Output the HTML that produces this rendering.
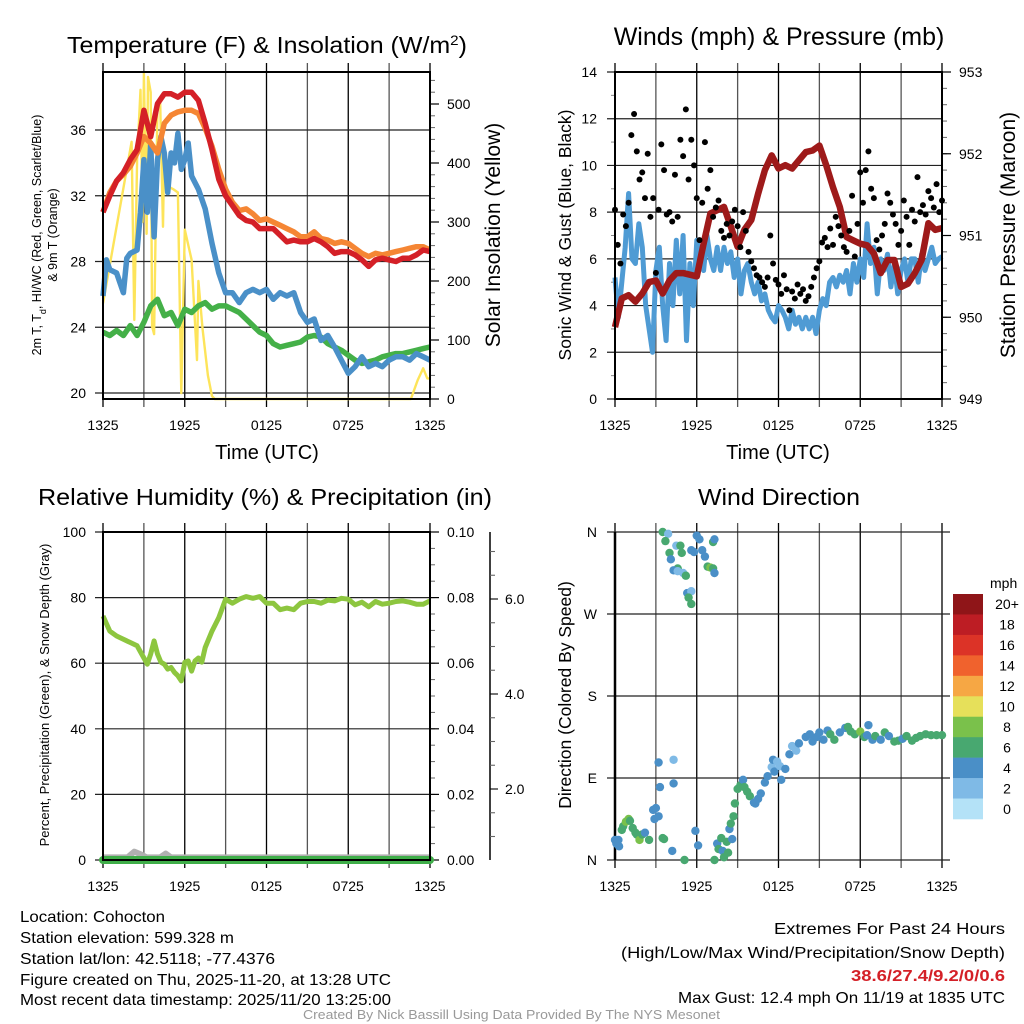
<!DOCTYPE html>
<html><head><meta charset="utf-8"><style>
html,body{margin:0;padding:0;background:#fff}
svg{display:block;font-family:"Liberation Sans",sans-serif}
.n{font-family:"Liberation Sans Narrow","Liberation Sans",sans-serif}
</style></head><body>
<svg id="chart" width="1024" height="1024" viewBox="0 0 1024 1024" xmlns="http://www.w3.org/2000/svg">
<rect width="1024" height="1024" fill="#fff"/>
<g id="panels"></g>
<text x="267" y="53" font-size="23" text-anchor="middle" textLength="400" lengthAdjust="spacingAndGlyphs">Temperature (F) &amp; Insolation (W/m<tspan baseline-shift="super" font-size="14">2</tspan>)</text>
<text x="779" y="45" font-size="25" text-anchor="middle">Winds (mph) &amp; Pressure (mb)</text>
<text x="265" y="505" font-size="23" text-anchor="middle" textLength="454" lengthAdjust="spacingAndGlyphs">Relative Humidity (%) &amp; Precipitation (in)</text>
<text x="779" y="505" font-size="23" text-anchor="middle" textLength="162" lengthAdjust="spacingAndGlyphs">Wind Direction</text>
<text x="267" y="459" font-size="20" text-anchor="middle">Time (UTC)</text>
<text x="778" y="459" font-size="20" text-anchor="middle">Time (UTC)</text>
<text transform="translate(41,235) rotate(-90)" font-size="12.5" text-anchor="middle">2m T, T<tspan baseline-shift="sub" font-size="9">d</tspan>, HI/WC (Red, Green, Scarlet/Blue)</text>
<text transform="translate(57,235) rotate(-90)" font-size="12.5" text-anchor="middle">&amp; 9m T (Orange)</text>
<text transform="translate(500,235) rotate(-90)" font-size="21" text-anchor="middle">Solar Insolation (Yellow)</text>
<text transform="translate(571,235) rotate(-90)" font-size="17.5" text-anchor="middle">Sonic Wind &amp; Gust (Blue, Black)</text>
<text transform="translate(1015,235) rotate(-90)" font-size="21" text-anchor="middle">Station Pressure (Maroon)</text>
<text transform="translate(49,695) rotate(-90)" font-size="13" text-anchor="middle">Percent, Precipitation (Green), &amp; Snow Depth (Gray)</text>
<text transform="translate(571,695) rotate(-90)" font-size="17.5" text-anchor="middle">Direction (Colored By Speed)</text>
<g class="n" font-size="16">
<text x="20" y="922" textLength="145" lengthAdjust="spacingAndGlyphs">Location: Cohocton</text>
<text x="20" y="943" textLength="214" lengthAdjust="spacingAndGlyphs">Station elevation: 599.328 m</text>
<text x="20" y="964" textLength="255" lengthAdjust="spacingAndGlyphs">Station lat/lon: 42.5118; -77.4376</text>
<text x="20" y="985" textLength="371" lengthAdjust="spacingAndGlyphs">Figure created on Thu, 2025-11-20, at 13:28 UTC</text>
<text x="20" y="1005" textLength="371" lengthAdjust="spacingAndGlyphs">Most recent data timestamp: 2025/11/20 13:25:00</text>
</g>
<g class="n" font-size="16">
<text x="774" y="934" textLength="231" lengthAdjust="spacingAndGlyphs">Extremes For Past 24 Hours</text>
<text x="621" y="958" textLength="384" lengthAdjust="spacingAndGlyphs">(High/Low/Max Wind/Precipitation/Snow Depth)</text>
<text x="851" y="981" textLength="154" lengthAdjust="spacingAndGlyphs" fill="#d42027" font-weight="bold">38.6/27.4/9.2/0/0.6</text>
<text x="678" y="1003" textLength="327" lengthAdjust="spacingAndGlyphs">Max Gust: 12.4 mph On 11/19 at 1835 UTC</text>
</g>
<text class="n" x="303" y="1019" font-size="13" fill="#999" textLength="417" lengthAdjust="spacingAndGlyphs">Created By Nick Bassill Using Data Provided By The NYS Mesonet</text>
</svg>
<script>
const timeTickHours = [0,6,12,18,24];
const timeTickLabels = ["1325","1925","0125","0725","1325"];
const tempTicks = [20,24,28,32,36];
const solarTicks = [0,100,200,300,400,500];
const windTicks = [0,2,4,6,8,10,12,14];
const pressTicks = [949,950,951,952,953];
const rhTicks = [0,20,40,60,80,100];
const precipTickLabels = ["0.00","0.02","0.04","0.06","0.08","0.10"];
const snowTicks = [2,4,6];
const dirTicks = [0,90,180,270,360];
const dirTickLabels = ["N","E","S","W","N"];

const tempRed = [31,32,32.9,33.4,34.2,34.8,37.2,35.6,37.6,38.2,38.2,38,38.3,38.3,37.8,36.4,34.8,33,32,31.4,30.8,30.5,30.4,30,30,30,29.6,29.2,29.3,29.2,29.2,29.4,29.2,28.9,28.5,28.6,28.6,28.4,28.1,27.7,28.1,28.2,28.1,28.0,28.2,28.2,28.4,28.7,28.6];
const tempOrange = [31,32.2,32.9,33.3,33.8,34.6,35.6,35.2,34.6,36.4,36.9,37.1,37.2,37.2,37.0,36.1,35.0,33.6,32.4,31.6,31.1,31.2,30.9,30.5,30.6,30.4,30.2,30.0,29.8,29.5,29.5,29.8,29.4,29.3,29.1,29.2,29.1,28.8,28.5,28.3,28.5,28.4,28.5,28.6,28.7,28.8,28.9,28.9,28.7];
const dewGreen = [23.7,23.5,23.8,23.5,24.1,23.5,24.3,25.3,25.7,24.7,24.9,24.1,25.1,24.9,25.3,25.5,25.1,25.3,25.3,25.1,24.9,24.5,24.1,23.7,23.5,23.0,22.8,22.9,23.0,23.1,23.4,23.5,23.4,23.0,22.8,22.6,22.3,22.0,21.8,21.9,22.0,22.2,22.3,22.4,22.4,22.5,22.6,22.7,22.8];
const hiwcHours = [0,0.25,0.5,1,1.5,1.75,2,2.5,2.75,3,3.25,3.5,3.75,4,4.25,4.5,4.75,5,5.25,5.5,5.75,6,6.25,6.5,7,7.5,8,8.5,9,9.5,10,10.5,11,11.5,12,12.5,13,13.5,14,14.5,15,15.5,16,16.5,17,17.5,18,18.5,19,19.5,20,20.5,21,21.5,22,22.5,23,23.5,24];
const hiwcBlue = [25.9,28.1,27.5,27.3,26.1,28.2,28.5,28.7,31,34.2,31,35.2,29.5,34.2,35.6,34.6,32.2,34.6,34.0,35.8,33.6,34.2,35.2,33.2,32.4,31.2,29.1,27.3,26.1,26.1,25.5,26.1,26.3,26.1,26.3,25.7,26.1,25.9,26.1,24.9,24.3,24.5,23.2,23.5,22.8,22.0,21.2,21.6,22.2,21.6,21.8,21.6,22.0,22.2,22.2,22.0,22.4,22.2,22.0];
const solarHours = [0,2.1,2.3,2.5,2.75,2.9,3.0,3.2,3.3,3.5,3.6,3.75,4.0,4.2,4.4,4.5,4.8,5.2,5.5,5.75,6.0,6.5,6.9,7.0,7.3,7.7,8.0,8.2,22.6,23.1,23.5,23.8,24];
const solarVals = [162,436,134,405,524,300,552,280,546,520,123,110,501,501,292,430,360,355,350,10,287,236,66,200,120,40,5,0,0,32,52,35,35];

const windSpeed = [5.2,3.5,5.0,6.5, 8.8,6.0,5.8,7.5, 6.5,4.0,3.0,2.0, 5.5,6.5,4.0,2.5, 5.8,4.0,6.8,4.5, 7.0,2.5,5.8,4.0, 6.8,6.0,5.5,7.0, 6.0,5.5,6.5,5.5, 6.5,5.8,6.3,5.2, 6.0,4.5,5.5,5.8, 5.0,4.5,5.0,4.2, 4.5,3.8,3.5,3.3, 4.0,3.8,3.5,3.0, 3.8,3.2,3.5,3.0, 3.5,3.0,3.5,2.8, 3.8,4.3,4.0,5.0, 5.2,4.8,5.3,5.0, 5.5,4.5,5.8,5.0, 6.0,5.2,7.5,5.8, 6.5,4.5,6.0,5.5, 6.2,4.8,5.8,4.5, 5.5,6.0,5.0,6.0, 6.0,5.0,6.2,5.5, 6.0,6.5,5.8,6.0, 6.1];
const windGust = [8.1,6.6,5.8,7.9,7.4,8.4,11.3,12.2,10.6,9.4,9.7,8.6,10.5,7.8,8.6,5.4,8.1,10.9,9.8,7.9,8.0,7.6,9.6,7.8,11.1,10.4,12.4,9.4,11.1,10.0,8.6,6.8,8.4,11.0,9.0,9.8,7.8,8.2,8.5,7.2,6.9,7.5,7.0,7.6,8.1,7.4,6.5,8.0,7.2,6.3,5.9,5.6,5.3,5.2,5.0,4.8,5.2,7.0,5.8,5.1,4.9,4.5,5.3,4.7,3.8,4.6,4.3,4.9,4.5,4.7,4.2,4.4,4.8,5.2,5.6,5.9,6.7,6.9,6.5,7.3,6.6,7.8,7.4,7.0,6.5,6.3,7.2,8.7,6.1,7.5,9.7,8.4,9.8,10.6,9.0,8.6,6.8,6.4,7.0,7.5,8.8,8.4,7.9,7.5,6.6,7.2,8.5,7.8,6.6,8.1,7.6,9.5,8.0,8.3,7.9,8.9,8.6,8.2,9.2,8.0,8.5];
const pressure = [949.88,950.23,950.27,950.19,950.29,950.43,950.45,950.29,950.45,950.54,950.54,950.52,950.50,950.90,951.27,951.31,951.35,951.11,950.86,951.07,951.19,951.51,951.80,951.98,951.82,951.86,951.82,951.92,952.02,952.04,952.10,951.86,951.59,951.35,950.98,950.94,950.90,950.88,950.78,950.54,950.70,950.70,950.37,950.41,950.54,950.70,951.15,951.07,951.09];

const rhHours = [0,0.5,1,1.5,2,2.5,3,3.25,3.5,3.75,4,4.25,4.5,4.75,5,5.25,5.5,5.75,6,6.25,6.5,6.75,7,7.25,7.5,8,8.5,9,9.5,10,10.5,11,11.5,12,12.5,13,13.5,14,14.5,15,15.5,16,16.5,17,17.5,18,18.5,19,19.5,20,20.5,21,21.5,22,22.5,23,23.5,24];
const rhVals = [74.4,69.8,68.3,67.3,66.3,65.3,61.6,59.7,62.8,66.8,62.8,60.3,59.7,58.2,58.7,57.2,56.2,54.6,60.3,60.7,57.6,60.7,61.6,60.3,64.8,69.8,73.9,79.5,78.3,79.5,80.3,79.8,80.3,78.3,78.3,76.3,76.8,76.3,78.3,78.8,78.8,78.3,79.2,79.0,79.8,79.5,77.8,78.6,77.2,78.8,78.0,78.3,78.8,79.0,78.6,78.0,78.0,79.0];
const precipHours = [0,24];
const precipVals = [0,0];
const snowHours = [0,1.8,2.3,2.8,3.2,4.2,4.6,5.0,24];
const snowVals = [0.56,0.56,0.68,0.62,0.56,0.56,0.64,0.56,0.56];

const dirHours = [0,0.1,0.25,0.3,0.5,0.6,0.8,1.0,1.1,1.3,1.5,1.6,1.8,2.0,2.2,2.5,2.8,2.9,3.0,3.2,3.3,3.2,3.5,3.6,4.2,4.3,4.3,3.5,3.9,3.7,4.0,4.1,4.5,4.8,4.9,4.6,4.3,4.6,5.0,5.3,5.6,5.4,5.6,5.2,5.6,5.8,6.0,6.2,6.4,6.6,6.8,7.0,7.2,7.3,7.2,7.3,5.1,5.9,6.1,7.3,7.5,7.6,7.8,7.9,8.0,8.2,8.3,8.6,8.4,8.5,8.7,8.8,9.0,9.2,9.4,9.5,9.7,9.9,10.2,10.3,10.5,10.7,11.0,11.2,11.5,11.6,11.7,11.9,12.1,12.2,12.5,12.8,13.0,13.2,13.3,13.5,14.0,14.3,14.5,14.8,15.0,15.3,15.6,15.8,16.1,16.5,16.9,17.1,17.3,17.6,18.0,18.3,18.5,18.6,18.9,19.1,19.5,19.8,20.1,20.5,20.8,21.1,21.4,21.8,22.1,22.4,22.8,23.2,23.6,24.0];
const dirDeg = [22,18,22,15,33,37,42,45,43,35,30,28,22,28,30,22,55,45,57,48,80,107,24,23,10,84,110,360,358,350,337,330,345,345,337,320,318,317,315,293,295,288,281,312,340,338,356,352,340,333,322,321,320,315,349,352,0,32,16,0,18,12,24,10,3,20,8,23,34,40,48,62,78,82,88,80,75,70,63,62,67,73,85,92,102,110,97,108,103,88,100,116,125,124,120,128,135,138,130,135,140,132,142,138,132,140,145,146,141,138,141,135,137,148,132,136,132,140,136,130,131,133,136,131,134,136,138,137,137,137];
const dirSpeed = [5,5,5,5,7,7,8,8,7,7,7,7,9,7,5,7,5,5,5,5,5,5,7,7,5,5,3,7,3,7,7,5,3,7,7,7,5,3,3,5,3,7,7,7,5,5,5,5,5,5,7,9,7,5,7,5,7,5,5,7,5,7,7,5,7,7,7,5,5,7,7,7,7,7,5,7,7,7,5,5,5,5,5,5,3,5,5,3,3,5,5,5,3,3,3,5,5,5,5,5,5,5,5,7,7,5,5,7,7,7,9,7,5,5,5,7,5,7,5,7,7,5,7,7,7,7,7,7,7,7];
const speedBins = ["0","2","4","6","8","10","12","14","16","18","20+"];
const speedColors = ["#b4e2f7","#7fbae6","#4a8fc7","#48a870","#7ac14b","#e6e05a","#f6a744","#f0622d","#dc3327","#bd1d24","#8f1518"];

const NS = "http://www.w3.org/2000/svg";
const root = document.getElementById("panels");
function mk(tag, attrs, parent) {
  const el = document.createElementNS(NS, tag);
  for (const k in attrs) el.setAttribute(k, attrs[k]);
  (parent || root).appendChild(el);
  return el;
}
function lin(d0, d1, r0, r1) { return v => r0 + (v - d0) * (r1 - r0) / (d1 - d0); }
function pathFrom(xs, ys, fx, fy) {
  let d = "";
  for (let i = 0; i < xs.length; i++) d += (i ? "L" : "M") + fx(xs[i]).toFixed(1) + "," + fy(ys[i]).toFixed(1);
  return d;
}
function halfHours(n) { const a = []; for (let i = 0; i < n; i++) a.push(i * 0.5); return a; }
function quarterHours(n) { const a = []; for (let i = 0; i < n; i++) a.push(i * 0.25); return a; }
function fifthHours(n) { const a = []; for (let i = 0; i < n; i++) a.push(i * 0.2); return a; }

function frame(g, x0, x1, y0, y1, name) {
  const fx = lin(0, 24, x0, x1);
  for (let h = 0; h <= 24; h += 3) {
    const x = fx(h);
    const ln = mk("line", {x1: x, x2: x, y1: y0 - 9, y2: y1 + 8, stroke: (h % 6 === 0) ? "#000" : "#555", "stroke-width": 1.3}, g);
    
    
  }
  for (let i = 0; i < timeTickHours.length; i++) {
    const t = mk("text", {x: fx(timeTickHours[i]), y: y1 + 31, "font-size": 14, "text-anchor": "middle", class: "n"}, g);
    t.textContent = timeTickLabels[i];
    
    
  }
  return fx;
}
function hgrid(g, ticks, fy, x0, x1, labels, lx, name, extR) {
  ticks.forEach((v, i) => {
    const y = fy(v);
    const ln = mk("line", {x1: x0 - 8, x2: x1 + (extR || 0), y1: y, y2: y, stroke: "#222", "stroke-width": 1.2}, g);
    
    
    const t = mk("text", {x: lx, y: y + 5, "font-size": 14, "text-anchor": "end"}, g);
    t.textContent = labels ? labels[i] : v;
    
    
  });
}
function rightTicks(g, ticks, fy, x, labels, name, minor) {
  minor.forEach(v => {
    const y = fy(v);
    const ln = mk("line", {x1: x, x2: x + 5, y1: y, y2: y, stroke: "#666", "stroke-width": 1}, g);
    
    
  });
  ticks.forEach((v, i) => {
    const y = fy(v);
    const ln = mk("line", {x1: x, x2: x + 9, y1: y, y2: y, stroke: "#000", "stroke-width": 1.2}, g);
    
    
    const t = mk("text", {x: x + 17, y: y + 5, "font-size": 14}, g);
    t.textContent = labels ? labels[i] : v;
    
    
  });
}
function border(g, x0, x1, y0, y1, name) {
  const r = mk("rect", {x: x0, y: y0, width: x1 - x0, height: y1 - y0, fill: "none", stroke: "#000", "stroke-width": 2}, g);
  
  
}
function range(a, b, s) { const r = []; for (let v = a; v <= b + 1e-9; v += s) r.push(+v.toFixed(4)); return r; }

(function () {
  const g = mk("g", {});
  
  
  const x0 = 103, x1 = 430, y0 = 72, y1 = 399;
  const fx = frame(g, x0, x1, y0, y1, "temperature");
  const fy = lin(20, 36, 393, 130);
  const fs = lin(0, 500, 399, 104);
  hgrid(g, tempTicks, fy, x0, x1, null, 86, "temperature", 0);
  rightTicks(g, solarTicks, fs, x1, null, "solar", range(0, 540, 20));
  const sol = mk("path", {d: pathFrom(solarHours, solarVals, fx, fs), fill: "none", stroke: "#fde45a", "stroke-width": 2.4, "stroke-linejoin": "round"}, g);
  
  
  const hh = halfHours(49);
  const gr = mk("path", {d: pathFrom(hh, dewGreen, fx, fy), fill: "none", stroke: "#44b048", "stroke-width": 5.5, "stroke-linejoin": "round"}, g);
  
  
  const bl = mk("path", {d: pathFrom(hiwcHours, hiwcBlue, fx, fy), fill: "none", stroke: "#4a90c8", "stroke-width": 5.5, "stroke-linejoin": "round"}, g);
  
  
  const or = mk("path", {d: pathFrom(hh, tempOrange, fx, fy), fill: "none", stroke: "#f58634", "stroke-width": 5.5, "stroke-linejoin": "round"}, g);
  
  
  const rd = mk("path", {d: pathFrom(hh, tempRed, fx, fy), fill: "none", stroke: "#d42027", "stroke-width": 5.5, "stroke-linejoin": "round"}, g);
  
  
  border(g, x0, x1, y0, y1, "temperature");
})();

(function () {
  const g = mk("g", {});
  
  
  const x0 = 615, x1 = 942, y0 = 72, y1 = 399;
  const fx = frame(g, x0, x1, y0, y1, "winds");
  const fy = lin(0, 14, y1, y0);
  const fp = lin(949, 953, y1, y0);
  hgrid(g, windTicks, fy, x0, x1, null, 597, "winds", 0);
  windTicks.slice(0, -1).forEach(v => {
    const ln = mk("line", {x1: x0 - 4, x2: x0, y1: fy(v + 1), y2: fy(v + 1), stroke: "#888", "stroke-width": 1}, g);
    
    
  });
  rightTicks(g, pressTicks, fp, x1, null, "pressure", range(949, 953, 0.2));
  const ws = mk("path", {d: pathFrom(quarterHours(windSpeed.length), windSpeed, fx, fy), fill: "none", stroke: "#4f9bd4", "stroke-width": 5, "stroke-linejoin": "round"}, g);
  
  
  const pr = mk("path", {d: pathFrom(halfHours(pressure.length), pressure, fx, fp), fill: "none", stroke: "#9e1a1a", "stroke-width": 6.5, "stroke-linejoin": "round"}, g);
  
  
  const gh = fifthHours(windGust.length);
  for (let i = 0; i < windGust.length; i++) {
    const c = mk("circle", {cx: fx(gh[i]), cy: fy(windGust[i]), r: 3, fill: "#000"}, g);
    
    
  }
  border(g, x0, x1, y0, y1, "winds");
})();

(function () {
  const g = mk("g", {});
  
  
  const x0 = 103, x1 = 430, y0 = 532, y1 = 860;
  const fx = frame(g, x0, x1, y0, y1, "humidity");
  const fy = lin(0, 100, y1, y0);
  const fpp = lin(0, 0.1, y1, y0);
  const fsn = lin(0, 2, 884, 789);
  hgrid(g, rhTicks, fy, x0, x1, null, 86, "humidity", 0);
  rightTicks(g, [0, 0.02, 0.04, 0.06, 0.08, 0.1], fpp, x1, precipTickLabels, "precip", range(0, 0.1, 0.005));
  const sa = mk("line", {x1: 490, x2: 490, y1: y0, y2: y1, stroke: "#000", "stroke-width": 1.5}, g);
  
  
  range(0.5, 7, 0.5).forEach(v => {
    const y = fsn(v);
    if (y < y0 || y > y1) return;
    const big = snowTicks.indexOf(v) >= 0;
    const ln = mk("line", {x1: 490, x2: big ? 498 : 495, y1: y, y2: y, stroke: big ? "#000" : "#666", "stroke-width": 1.1}, g);
    
    
  });
  snowTicks.forEach(v => {
    const t = mk("text", {x: 505, y: fsn(v) + 5, "font-size": 14}, g);
    t.textContent = v.toFixed(1);
    
    
  });
  const rh = mk("path", {d: pathFrom(rhHours, rhVals, fx, fy), fill: "none", stroke: "#8dc63f", "stroke-width": 5, "stroke-linejoin": "round"}, g);
  
  
  const sn = mk("path", {d: pathFrom(snowHours, snowVals, fx, fsn), fill: "none", stroke: "#b0b0b0", "stroke-width": 6, "stroke-linejoin": "round"}, g);
  
  
  const pp = mk("path", {d: pathFrom(precipHours, precipVals, fx, fpp), fill: "none", stroke: "#3fae49", "stroke-width": 8, "stroke-linecap": "round"}, g);
  
  
  border(g, x0, x1, y0, y1, "humidity");
})();

(function () {
  const g = mk("g", {});
  
  
  const x0 = 615, x1 = 942, y0 = 532, y1 = 860;
  const fx = frame(g, x0, x1, y0, y1, "direction");
  const fy = lin(0, 360, y1, y0);
  hgrid(g, dirTicks, fy, x0, x1, dirTickLabels, 597, "direction", 8);
  const l = mk("line", {x1: x0, x2: x0, y1: y0, y2: y1, stroke: "#000", "stroke-width": 2.5}, g);
  
  
  function colorFor(s) { return speedColors[Math.min(10, Math.floor(s / 2))]; }
  for (let i = 0; i < dirDeg.length; i++) {
    const c = mk("circle", {cx: fx(dirHours[i]), cy: fy(dirDeg[i]), r: 4.2, fill: colorFor(dirSpeed[i])}, g);
    
    
  }
  const cb = mk("g", {}, g);
  
  
  const t0 = mk("text", {x: 990, y: 588, "font-size": 14}, cb);
  t0.textContent = "mph";
  
  
  const bh = 225 / 11;
  for (let i = 0; i < 11; i++) {
    const k = 10 - i;
    const y = 594 + i * bh;
    const r = mk("rect", {x: 953, y: y, width: 30, height: bh + 0.3, fill: speedColors[k]}, cb);
    
    
    const t = mk("text", {x: 1007, y: y + bh / 2 + 5, "font-size": 14, "text-anchor": "middle"}, cb);
    t.textContent = speedBins[k];
    
    
  }
})();
</script>
</body></html>
